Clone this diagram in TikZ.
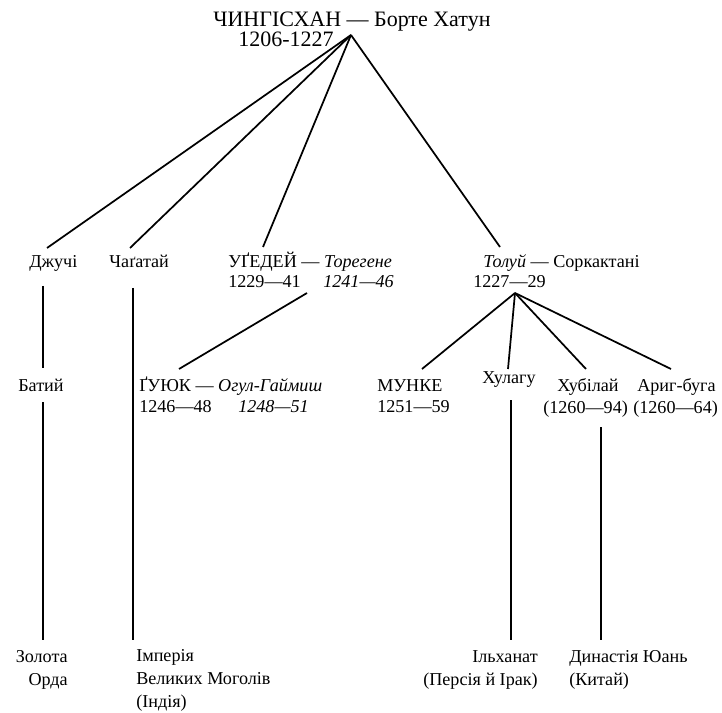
\documentclass[tikz,border=0pt]{standalone}
\usepackage{fontspec}
\setmainfont{Liberation Serif}
\usepackage{tikz}

\tikzset{
  khan/.style={inner sep=0pt, font=\fontsize{16.5}{20}\selectfont},
  heir/.style={inner sep=0pt, font=\fontsize{13.6}{15}\selectfont},
  realm/.style={inner sep=0pt, font=\fontsize{13.6}{17}\selectfont},
  tie/.style={line width=1.3pt}
}

\begin{document}
\begin{tikzpicture}[x=0.75pt,y=-0.75pt]
\useasboundingbox (0,0) rectangle (722,713);

\node[khan,anchor=base west] (chinggis) at (213,27) {ЧИНГІСХАН — Борте Хатун};
\node[khan,anchor=base west] (chinggisyrs) at (238,47) {1206-1227};
\coordinate (apex) at (351,35);

\node[heir,anchor=base west] (juchi) at (29,268) {Джучі};
\node[heir,anchor=base west] (chagatai) at (109,268) {Чаґатай};
\node[heir,anchor=base west] (ugedei) at (228,268) {УҐЕДЕЙ — \textit{Торегене}};
\node[heir,anchor=base west] (ugedeiyrs) at (228,288) {1229—41};
\node[heir,anchor=base west] (toregeneyrs) at (323,288) {\textit{1241—46}};
\node[heir,anchor=base west] (tolui) at (483,268) {\textit{Толуй} — Соркактані};
\node[heir,anchor=base west] (toluiyrs) at (473,288) {1227—29};

\coordinate (juchitop) at (47,248);
\coordinate (chagataitop) at (130,248);
\coordinate (ugedeitop) at (263,247);
\coordinate (toluitop) at (500,247);
\draw[tie] (apex) -- (juchitop);
\draw[tie] (apex) -- (chagataitop);
\draw[tie] (apex) -- (ugedeitop);
\draw[tie] (apex) -- (toluitop);

\node[heir,anchor=base west] (batu) at (18,392) {Батий};
\node[heir,anchor=base west] (guyuk) at (139,392) {ҐУЮК — \textit{Огул-Гаймиш}};
\node[heir,anchor=base west] (guyukyrs) at (139,412) {1246—48};
\node[heir,anchor=base west] (oghulyrs) at (238,412) {\textit{1248—51}};
\node[heir,anchor=base west] (mongke) at (377,392) {МУНКЕ};
\node[heir,anchor=base west] (mongkeyrs) at (377,412) {1251—59};
\node[heir,anchor=base west] (hulagu) at (482,383) {Хулагу};
\node[heir,anchor=base west] (kublai) at (557,392) {Хубілай};
\node[heir,anchor=base west] (kublaiyrs) at (543,413) {(1260—94)};
\node[heir,anchor=base west] (arik) at (637,392) {Ариг-буга};
\node[heir,anchor=base west] (arikyrs) at (633,413) {(1260—64)};

% sons of Ugedei and Tolui
\coordinate (ugedeifoot) at (307,293);
\coordinate (toluifoot) at (515,293);
\coordinate (guyuktop) at (179,369);
\coordinate (mongketop) at (422,369);
\coordinate (hulagutop) at (508,369);
\coordinate (kublaitop) at (586,369);
\coordinate (ariktop) at (671,369);
\draw[tie] (ugedeifoot) -- (guyuktop);
\draw[tie] (toluifoot) -- (mongketop);
\draw[tie] (toluifoot) -- (hulagutop);
\draw[tie] (toluifoot) -- (kublaitop);
\draw[tie] (toluifoot) -- (ariktop);

% anchors sit on the last line
\node[realm,anchor=base east,align=right] (horde) at (68,685) {Золота\\Орда};
\node[realm,anchor=base west,align=left] (mughal) at (136,707) {Імперія\\Великих Моголів\\(Індія)};
\node[realm,anchor=base east,align=right] (ilkhan) at (538,685) {Ільханат\\(Персія й Ірак)};
\node[realm,anchor=base west,align=left] (yuan) at (569,685) {Династія Юань\\(Китай)};

% lines of descent
\coordinate (juchifoot) at (43,286);
\coordinate (batutop) at (43,368);
\coordinate (batufoot) at (43,402);
\coordinate (hordetop) at (43,640);
\coordinate (chagataifoot) at (133,288);
\coordinate (mughaltop) at (133,640);
\coordinate (hulagufoot) at (511,400);
\coordinate (ilkhantop) at (511,640);
\coordinate (kublaifoot) at (601,427);
\coordinate (yuantop) at (601,640);
\draw[tie] (juchifoot) -- (batutop);
\draw[tie] (batufoot) -- (hordetop);
\draw[tie] (chagataifoot) -- (mughaltop);
\draw[tie] (hulagufoot) -- (ilkhantop);
\draw[tie] (kublaifoot) -- (yuantop);
\end{tikzpicture}
\end{document}
